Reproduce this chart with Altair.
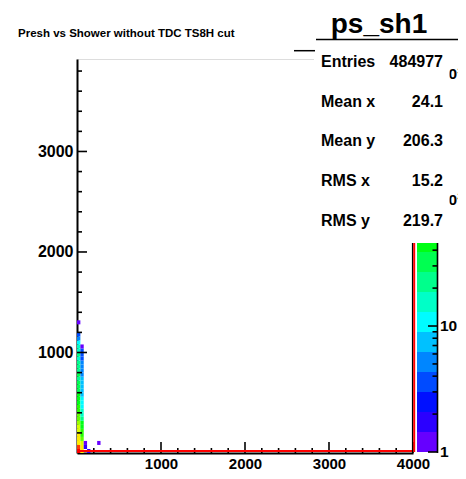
import colorsys
import altair as alt
import pandas as pd

# ---------------- data ----------------
title_text = "Presh vs Shower without TDC TS8H cut"
hist_name = "ps_sh1"
stat_labels = ["Entries", "Mean x", "Mean y", "RMS x", "RMS y"]
stat_values = ["484977", "24.1", "206.3", "15.2", "219.7"]

bin_width = 40  # histogram bin width (both axes)
# counts of the first x bin (0-40) for y bins j = 0, 1, 2, ...
col0_counts = [1200, 820, 290, 270, 260, 210, 180, 140, 100, 90, 70, 60, 48, 44, 40,
               33, 30, 28, 22, 27, 21, 20, 19, 15, 19, 14, 13, 10, 5, 4, 0, 0, 1]
# counts of the second x bin (40-80)
col1_counts = [280, 260, 200, 100, 70, 62, 45, 40, 23, 16, 14, 11, 10, 9, 8, 7, 7, 7, 7,
               6, 6, 5, 5, 4, 4, 4, 1]
# isolated cells: x bin index, y bin index, count
sparse_i = [2, 2, 3, 6]
sparse_j = [1, 2, 0, 2]
sparse_counts = [2, 1, 2, 1]

x_domain = [0, 4000]
y_domain = [0, 3920]
x_major = [1000, 2000, 3000, 4000]
y_major = [1000, 2000, 3000]
x_minor = [200, 400, 600, 800, 1200, 1400, 1600, 1800, 2200, 2400, 2600, 2800,
           3200, 3400, 3600, 3800]
y_minor = [200, 400, 600, 800, 1200, 1400, 1600, 1800, 2200, 2400, 2600, 2800,
           3200, 3400, 3600, 3800]
z_max = 1496
n_contours = 20
z_label_values = [1, 10, 100, 1000]
z_labels = ["1", "10", "10\u00b2", "10\u00b3"]
z_minor = [2, 3, 4, 5, 6, 7, 8, 9, 20, 30, 40, 50, 60, 70, 80, 90,
           200, 300, 400, 500, 600, 700, 800, 900]

# ---------------- tables ----------------
rows = []
for j, c in enumerate(col0_counts):
    if c > 0:
        rows.append((0, j, c))
for j, c in enumerate(col1_counts):
    if c > 0:
        rows.append((1, j, c))
for i, j, c in zip(sparse_i, sparse_j, sparse_counts):
    rows.append((i, j, c))
cells = pd.DataFrame({
    "x0": [r[0] * bin_width for r in rows],
    "x1": [(r[0] + 1) * bin_width for r in rows],
    "y0": [r[1] * bin_width for r in rows],
    "y1": [(r[1] + 1) * bin_width for r in rows],
    "count": [r[2] for r in rows],
})


def hue_hex(h):
    r, g, b = colorsys.hsv_to_rgb(h / 360.0, 1.0, 1.0)
    return "#%02x%02x%02x" % (round(r * 255), round(g * 255), round(b * 255))


palette = [hue_hex(264.0 * (1 - k / (n_contours - 1))) for k in range(n_contours)]
edges = [z_max ** (k / n_contours) for k in range(n_contours + 1)]
cbar = pd.DataFrame({"lo": edges[:-1], "hi": edges[1:], "c": palette})

FONT = "Liberation Sans"
W, H = 336, 394

xs = alt.Scale(domain=x_domain, nice=False, zero=False)
ys = alt.Scale(domain=y_domain, nice=False, zero=False)
zs = alt.Scale(type="log", domain=[1, z_max], range=[H - 1, -7], nice=False)

axis_style = dict(format="d", ticks=False, tickSize=0, grid=False,
                  labelFont=FONT, labelFontWeight="bold",
                  labelColor="black", domainColor="black",
                  domainWidth=2, labelFlush=False, labelOverlap=False, title=None)
x_axis = alt.Axis(values=x_major, labelFontSize=15, labelPadding=3, **axis_style)
y_axis = alt.Axis(values=y_major, labelFontSize=16, labelPadding=4, **axis_style)

one = pd.DataFrame({"a": [0]})

heat = alt.Chart(cells).mark_rect(strokeWidth=0).encode(
    x=alt.X("x0:Q", scale=xs, title=None, axis=x_axis),
    x2="x1:Q",
    y=alt.Y("y0:Q", scale=ys, title=None, axis=y_axis),
    y2="y1:Q",
    color=alt.Color("count:Q", legend=None,
                    scale=alt.Scale(type="threshold", domain=edges[1:-1], range=palette)),
)

xmaj = alt.Chart(pd.DataFrame({"v": x_major})).mark_rule(color="black", strokeWidth=1.6).encode(
    x=alt.X("v:Q", scale=xs, title=None, axis=x_axis), y=alt.value(H), y2=alt.value(H - 11))
xmin = alt.Chart(pd.DataFrame({"v": x_minor})).mark_rule(color="black", strokeWidth=1.6).encode(
    x=alt.X("v:Q", scale=xs, title=None, axis=x_axis), y=alt.value(H), y2=alt.value(H - 5))
ymaj = alt.Chart(pd.DataFrame({"v": y_major})).mark_rule(color="black", strokeWidth=1.6).encode(
    y=alt.Y("v:Q", scale=ys, axis=None), x=alt.value(0), x2=alt.value(10))
ymin = alt.Chart(pd.DataFrame({"v": y_minor})).mark_rule(color="black", strokeWidth=1.6).encode(
    y=alt.Y("v:Q", scale=ys, axis=None), x=alt.value(0), x2=alt.value(5))

frame_right = alt.Chart(one).mark_rule(color="black", strokeWidth=1.2).encode(
    x=alt.value(W - 0.5), y=alt.value(0), y2=alt.value(H))
red_bottom = alt.Chart(one).mark_rule(color="#ff0000", strokeWidth=2).encode(
    x=alt.value(0), x2=alt.value(W), y=alt.value(H - 2))
red_right = alt.Chart(one).mark_rule(color="#ff0000", strokeWidth=2).encode(
    x=alt.value(W + 1.2), y=alt.value(0), y2=alt.value(H - 1))

cbar_rects = alt.Chart(cbar).mark_rect(strokeWidth=0).encode(
    x=alt.value(340), x2=alt.value(360),
    y=alt.Y("lo:Q", scale=zs, axis=None), y2="hi:Q",
    color=alt.Color("c:N", scale=None, legend=None))
cbar_line = alt.Chart(one).mark_rule(color="black", strokeWidth=1.6).encode(
    x=alt.value(360.5), y=alt.value(-7), y2=alt.value(H))
cbar_maj = alt.Chart(pd.DataFrame({"v": z_label_values})).mark_rule(color="black", strokeWidth=1.6).encode(
    y=alt.Y("v:Q", scale=zs, axis=None), x=alt.value(351), x2=alt.value(360))
cbar_min = alt.Chart(pd.DataFrame({"v": z_minor})).mark_rule(color="black", strokeWidth=1.6).encode(
    y=alt.Y("v:Q", scale=zs, axis=None), x=alt.value(355.5), x2=alt.value(360))
cbar_lab = alt.Chart(pd.DataFrame({"v": z_label_values, "t": z_labels})).mark_text(
    align="left", baseline="middle", font=FONT, fontWeight="bold", fontSize=15.5, color="black"
).encode(y=alt.Y("v:Q", scale=zs, axis=None), x=alt.value(363), text="t:N")

stats_box = alt.Chart(one).mark_rect(fill="white", strokeWidth=0).encode(
    x=alt.value(237), x2=alt.value(372.5), y=alt.value(-19), y2=alt.value(184))
header_line = alt.Chart(one).mark_rule(color="black", strokeWidth=1.5).encode(
    x=alt.value(239), x2=alt.value(388.5), y=alt.value(-19.5))
dash = alt.Chart(one).mark_rule(color="black", strokeWidth=1.5).encode(
    x=alt.value(217), x2=alt.value(238), y=alt.value(-8.3))

stats = pd.DataFrame({"row": list(range(len(stat_labels))), "lab": stat_labels, "val": stat_values})
srow = alt.Scale(type="point", domain=list(range(len(stat_labels))), range=[3, 161.8], padding=0)
stat_lab = alt.Chart(stats).mark_text(
    align="left", baseline="middle", font=FONT, fontWeight="bold", fontSize=16, color="black"
).encode(y=alt.Y("row:O", scale=srow, axis=None), x=alt.value(244), text="lab:N")
stat_val = alt.Chart(stats).mark_text(
    align="right", baseline="middle", font=FONT, fontWeight="bold", fontSize=16, color="black"
).encode(y=alt.Y("row:O", scale=srow, axis=None), x=alt.value(366), text="val:N")

name_txt = alt.Chart(one).mark_text(
    align="center", baseline="alphabetic", font=FONT, fontWeight="bold", fontSize=28, color="black"
).encode(x=alt.value(302), y=alt.value(-26), text=alt.value(hist_name))
title_txt = alt.Chart(one).mark_text(
    align="left", baseline="alphabetic", font=FONT, fontWeight="bold", fontSize=11.5, color="black"
).encode(x=alt.value(-59), y=alt.value(-22), text=alt.value(title_text))

chart = alt.layer(
    heat, xmaj, xmin, ymaj, ymin, red_bottom, frame_right, red_right,
    cbar_rects, cbar_line, cbar_maj, cbar_min, cbar_lab,
    stats_box, header_line, dash, stat_lab, stat_val, name_txt, title_txt,
).resolve_scale(y="independent").properties(
    width=W, height=H,
    padding={"left": 69, "top": 51, "right": 45, "bottom": 18},
    autosize=alt.AutoSizeParams(type="none"),
).configure_view(stroke=None).configure(background="white")

chart.save("out.html", embed_options={"renderer": "svg", "actions": False})
